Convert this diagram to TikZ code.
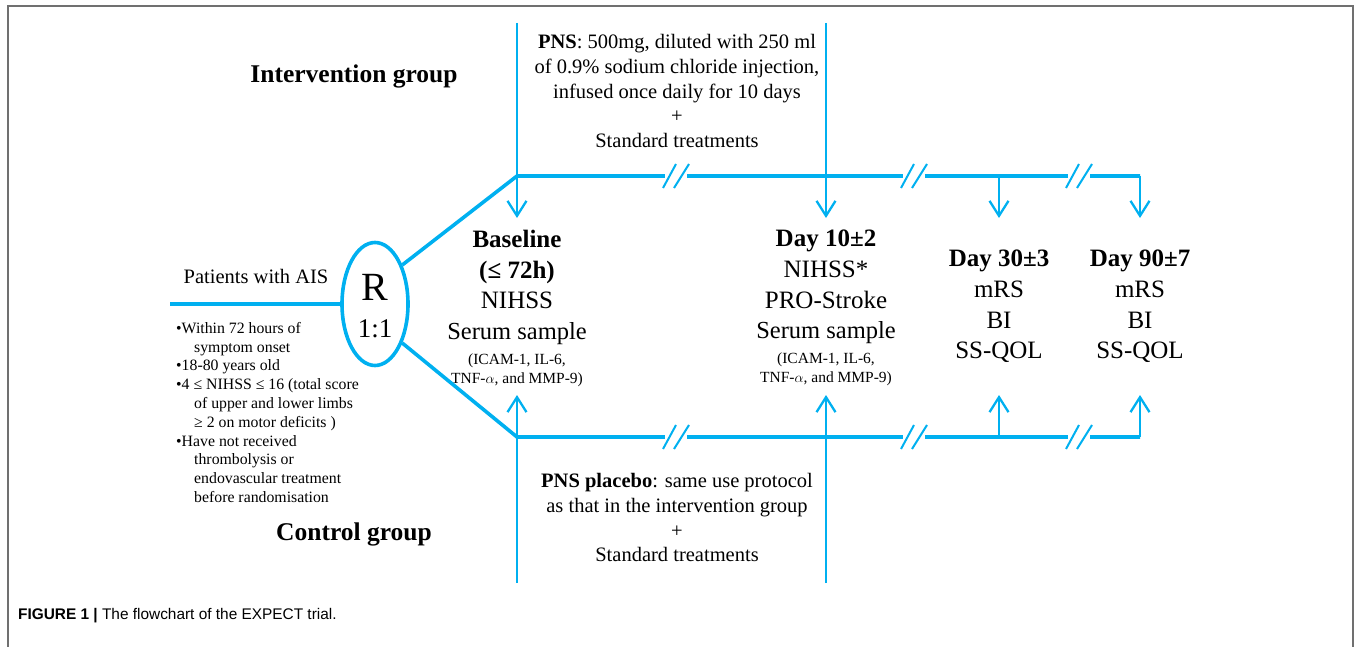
\documentclass[tikz,border=0pt]{standalone}
\usepackage{fontspec}
\setmainfont{Liberation Serif}
\newfontfamily\capfont{Liberation Sans}
\usetikzlibrary{shapes.geometric,arrows.meta}
\definecolor{trialblue}{RGB}{0,176,240}
\definecolor{framegray}{RGB}{112,112,112}
\tikzset{font={\fontsize{20.5}{24.5}\selectfont}}

\begin{document}
\begin{tikzpicture}[x=1pt,y=-1pt,
    main line/.style={draw=trialblue,line width=3.6pt},
    arr line/.style={draw=trialblue,line width=2.3pt,-{Straight Barb[length=15pt,width=19pt]}},
    brk/.pic={\fill[white] (-11,-4) rectangle (11,4);
              \draw[trialblue,line width=2pt] (-13,12) -- (0,-12) (-2,12) -- (13,-12);},
    group label/.style={font={\fontsize{25.5}{30}\selectfont\bfseries}},
    column/.style={anchor=north,align=center,inner sep=0pt,font={\fontsize{25}{30.7}\selectfont}},
    treat/.style={anchor=north,align=center,inner sep=0pt,font={\fontsize{20.5}{24.8}\selectfont}}]
  \useasboundingbox (0,0) rectangle (1356,647);
  % frame
  \draw[framegray,line width=2pt] (8,647) -- (8,6) -- (1353,6) -- (1353,647);

  % randomisation
  \node[ellipse,draw=trialblue,line width=3.6pt,minimum width=66pt,minimum height=123pt,inner sep=0pt] (rnd) at (375,304) {};
  \node[font={\fontsize{40}{40}\selectfont}] (rlab) at (375,287) {R};
  \node[font={\fontsize{27}{27}\selectfont}] (ratio) at (375,329) {1:1};
  \coordinate (start) at (170,304);
  \node (pat) at (256,276) {Patients with AIS};
  \node[anchor=north west,align=left,inner sep=0pt,font={\fontsize{15.8}{18.8}\selectfont}] (crit) at (176,322)
    {•Within 72 hours of\\\hspace*{18pt}symptom onset\\•18-80 years old\\
     •4 ≤ NIHSS ≤ 16 (total score\\\hspace*{18pt}of upper and lower limbs\\\hspace*{18pt}≥ 2 on motor deficits )\\
     •Have not received\\\hspace*{18pt}thrombolysis or\\\hspace*{18pt}endovascular treatment\\\hspace*{18pt}before randomisation};
  \draw[main line] (start) -- (rnd.west);

  % groups
  \node[group label] (ig) at (354,76) {Intervention group};
  \node[group label] (cg) at (354,534) {Control group};
  \coordinate (uc) at (517,176);
  \coordinate (lc) at (517,437);
  \coordinate (ur) at (1140,176);
  \coordinate (lr) at (1140,437);
  \draw[main line] (rnd.55) -- (uc) -- (ur);
  \draw[main line] (rnd.-55) -- (lc) -- (lr);
  \foreach \bx in {676,914,1079} {
    \pic at (\bx,176) {brk};
    \pic at (\bx,437) {brk};
  }

  % treatments
  \node[treat] (pns) at (677,34) {\textbf{PNS}: 500mg, diluted with 250 ml\\of 0.9\% sodium chloride injection,\\infused once daily for 10 days\\+\\Standard treatments};
  \node[treat] (plc) at (677,473) {\textbf{PNS placebo}: same use protocol\\as that in the intervention group\\+\\Standard treatments};

  % visits
  \coordinate (t1) at (517,23);   \coordinate (b1) at (517,583);
  \coordinate (t2) at (826,23);   \coordinate (b2) at (826,583);
  \coordinate (ua1) at (517,218); \coordinate (la1) at (517,395);
  \coordinate (ua2) at (826,218); \coordinate (la2) at (826,395);
  \coordinate (ut3) at (999,176); \coordinate (lt3) at (999,437);
  \coordinate (ua3) at (999,218); \coordinate (la3) at (999,395);
  \coordinate (ua4) at (1140,218); \coordinate (la4) at (1140,395);
  \draw[arr line] (t1) -- (ua1);
  \draw[arr line] (b1) -- (la1);
  \draw[arr line] (t2) -- (ua2);
  \draw[arr line] (b2) -- (la2);
  \draw[arr line] (ut3) -- (ua3);
  \draw[arr line] (lt3) -- (la3);
  \draw[arr line] (ur) -- (ua4);
  \draw[arr line] (lr) -- (la4);

  \node[column] (base) at (517,230) {\textbf{Baseline}\\\textbf{(≤ 72h)}\\NIHSS\\{\fontsize{24.5}{30}\selectfont Serum sample}\\[-6pt]
    {\fontsize{15.5}{19}\selectfont (ICAM-1, IL-6,}\\[-11.5pt]{\fontsize{15.5}{19}\selectfont TNF-$\alpha$, and MMP-9)}};
  \node[column] (d10) at (826,230) {\textbf{Day 10±2}\\NIHSS*\\PRO-Stroke\\{\fontsize{24.5}{30}\selectfont Serum sample}\\[-6pt]
    {\fontsize{15.5}{19}\selectfont (ICAM-1, IL-6,}\\[-11.5pt]{\fontsize{15.5}{19}\selectfont TNF-$\alpha$, and MMP-9)}};
  \node[column] (d30) at (999,250) {\textbf{Day 30±3}\\mRS\\BI\\SS-QOL};
  \node[column] (d90) at (1140,250) {\textbf{Day 90±7}\\mRS\\BI\\SS-QOL};

  % caption
  \node[anchor=base west,inner sep=0pt,font={\capfont\fontsize{15.4}{18}\selectfont}] (cap) at (18,619)
    {\textbf{FIGURE 1 |} The flowchart of the EXPECT trial.};
\end{tikzpicture}
\end{document}
